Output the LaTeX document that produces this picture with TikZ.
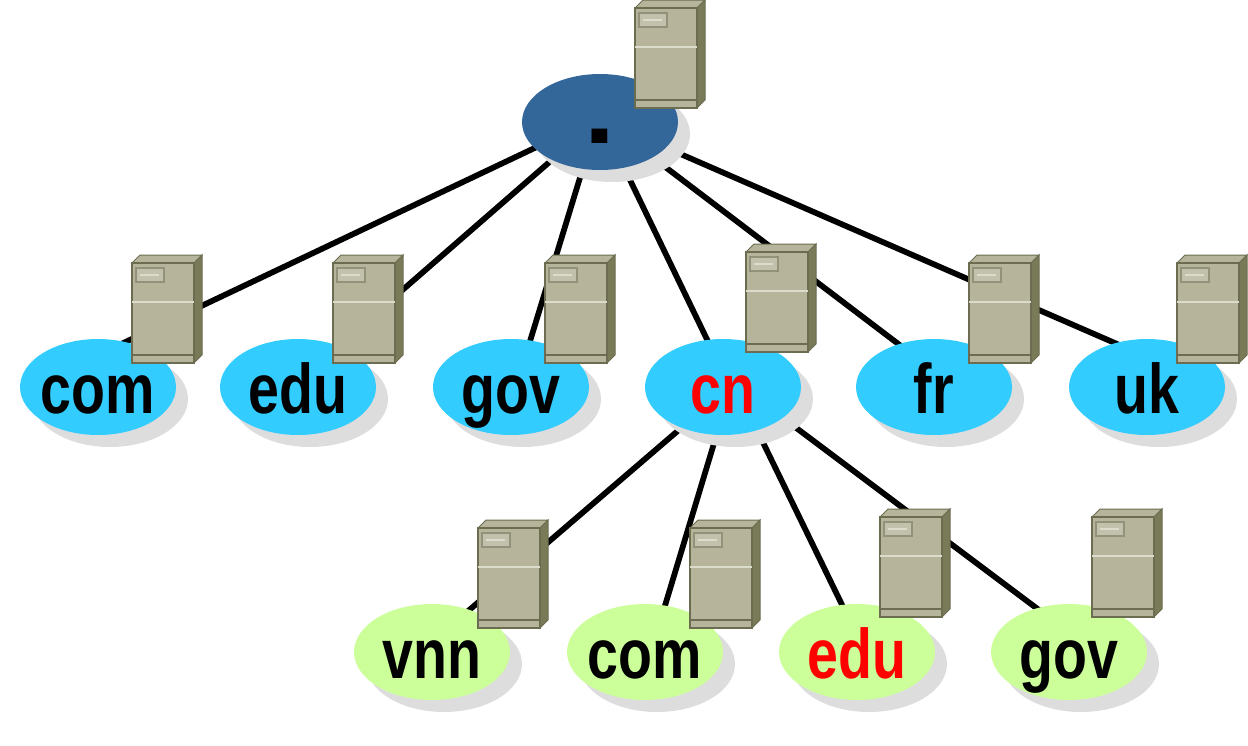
\documentclass[tikz,border=0pt]{standalone}
\usepackage{fontspec}
\usetikzlibrary{shapes.geometric,shadows,backgrounds}
\newfontfamily\labelfont[FakeStretch=0.79]{Liberation Sans Bold}
\newfontfamily\dotfont[FakeStretch=1.15]{Liberation Sans Bold}
\definecolor{rootblue}{HTML}{336699}
\definecolor{zoneblue}{HTML}{33CCFF}
\definecolor{zonegreen}{HTML}{CCFF99}
\definecolor{shadowgray}{HTML}{DDDDDD}
\definecolor{srvfront}{HTML}{B6B59C}
\definecolor{srvside}{HTML}{787A58}
\definecolor{srvline}{HTML}{6B6C50}
\definecolor{srvlight}{HTML}{DCDCCC}
\definecolor{srvpanel}{HTML}{C2C1AB}
\definecolor{srvedge}{HTML}{92927A}
\tikzset{
  zone/.style={ellipse,minimum width=3.12cm,minimum height=1.92cm,inner xsep=-3pt,inner ysep=0pt,
    text height=1.04cm,text depth=0cm,
    font=\labelfont\fontsize{40}{44}\selectfont,
    general shadow={shadow xshift=.24cm,shadow yshift=-.24cm,fill=shadowgray}},
  link/.style={draw=black,line width=.115cm},
  server/.pic={
    \draw[srvline,line width=.02cm,fill=srvfront] (0,0) -- (8,-8) -- (70,-8) -- (62,0) -- cycle;
    \draw[srvline,line width=.02cm,fill=srvside] (62,0) -- (70,-8) -- (70,92) -- (62,100) -- cycle;
    \draw[srvline,line width=.03cm,fill=srvfront] (0,0) rectangle (62,100);
    \draw[srvlight,line width=.03cm] (0,39) -- (62,39);
    \draw[srvline,line width=.03cm] (0,92) -- (62,92);
    \draw[srvedge,line width=.03cm,fill=srvpanel] (4,5) rectangle (32,19);
    \draw[srvlight,line width=.03cm] (8,12) -- (27,12);
  }
}
\begin{document}
\begin{tikzpicture}[x=.02cm,y=-.02cm]
      \useasboundingbox (0,0) rectangle (1248,745);

      \node[zone,fill=rootblue,text height=.84cm,font=\dotfont\fontsize{55}{60}\selectfont] (root) at (600,122) {.};

      \begin{scope}[every node/.append style={zone,fill=zoneblue}]
        \node (com) at (98,387) {com};
        \node (edu) at (298,387) {edu};
        \node (gov) at (511,387) {gov};
        \node[text=red] (cn) at (723,387) {cn};
        \node (fr) at (934,387) {fr};
        \node (uk) at (1147,387) {uk};
      \end{scope}

      \begin{scope}[every node/.append style={zone,fill=zonegreen}]
        \node (vnn) at (432,652) {vnn};
        \node (cncom) at (645,652) {com};
        \node[text=red] (cnedu) at (857,652) {edu};
        \node (cngov) at (1069,652) {gov};
      \end{scope}

      \begin{scope}[on background layer,every path/.style={link}]
        \path ([shift={(0,-5)}]root.center) edge ([shift={(0,-32)}]com.center);
        \path ([shift={(0,-4)}]root.center) edge ([shift={(0,-6)}]edu.center);
        \path ([shift={(-3,0)}]root.center) edge ([shift={(5,0)}]gov.center);
        \path ([shift={(2,0)}]root.center) edge ([shift={(7,0)}]cn.center);
        \path ([shift={(6,0)}]root.center) edge ([shift={(21,0)}]fr.center);
        \path ([shift={(0,-3)}]root.center) edge ([shift={(0,-30)}]uk.center);

        \path ([shift={(0,5)}]cn.center) edge ([shift={(0,-10)}]vnn.center);
        \path ([shift={(8,0)}]cn.center) edge ([shift={(6,0)}]cncom.center);
        \path ([shift={(13,0)}]cn.center) edge ([shift={(8,0)}]cnedu.center);
        \path ([shift={(0,-14)}]cn.center) edge ([shift={(0,-19.5)}]cngov.center);
      \end{scope}

      \pic (srvroot) at (635,8) {server};
      \pic (srvcom) at (132,263) {server};
      \pic (srvedu) at (333,263) {server};
      \pic (srvgov) at (545,263) {server};
      \pic (srvcn) at (746,252) {server};
      \pic (srvfr) at (969,263) {server};
      \pic (srvuk) at (1177,263) {server};
      \pic (srvvnn) at (478,528) {server};
      \pic (srvcncom) at (690,528) {server};
      \pic (srvcnedu) at (880,517) {server};
      \pic (srvcngov) at (1092,517) {server};

    \end{tikzpicture}
\end{document}
